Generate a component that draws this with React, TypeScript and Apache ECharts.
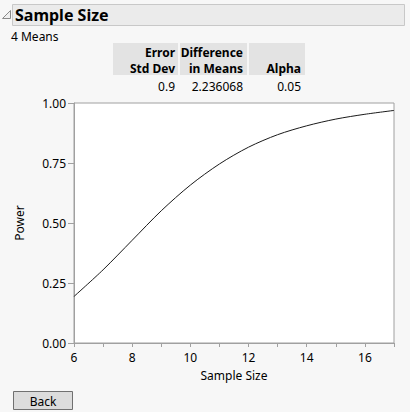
import React, { useEffect, useRef } from "react";
import * as echarts from "echarts";

const sampleSizes = [6, 7, 8, 9, 10, 11, 12, 13, 14, 15, 16, 17];
const powerValues = [0.194, 0.305, 0.428, 0.551, 0.658, 0.746, 0.816, 0.868, 0.905, 0.933, 0.953, 0.969];
const tableHeaders = [["Error", "Std Dev"], ["Difference", "in Means"], ["", "Alpha"]];
const tableValues = ["0.9", "2.236068", "0.05"];

const FONT = "'Noto Sans', 'Open Sans', sans-serif";

export default function App() {
  const ref = useRef<HTMLDivElement>(null);
  useEffect(() => {
    if (!ref.current) return;
    const chart = echarts.init(ref.current, null, { renderer: "svg" });
    const cells = [
      { x: 113, w: 65, right: 175 },
      { x: 180, w: 67, right: 243 },
      { x: 249, w: 56, right: 301 },
    ];
    const graphics: any[] = [
      { type: "rect", shape: { x: 12.5, y: 4.5, width: 392, height: 21 }, style: { fill: "#ebebeb", stroke: "#c8c8c8", lineWidth: 1 }, silent: true },
      { type: "polygon", shape: { points: [[10.5, 10.5], [10.5, 18.5], [2.5, 18.5]] }, style: { fill: "#f0f0f0", stroke: "#8a8a8a", lineWidth: 1 } },
      { type: "text", x: 15, y: 15, style: { text: "Sample Size", font: `bold 16px ${FONT}`, fill: "#000", textVerticalAlign: "middle" } },
      { type: "text", x: 11, y: 36, style: { text: "4 Means", font: `12px ${FONT}`, fill: "#000", textVerticalAlign: "middle" } },
      { type: "rect", shape: { x: 13.5, y: 391.5, width: 59, height: 18 }, style: { fill: "#dcdcdc", stroke: "#707070", lineWidth: 1 } },
      { type: "text", x: 43, y: 401, style: { text: "Back", font: `12px ${FONT}`, fill: "#000", textAlign: "center", textVerticalAlign: "middle" } },
    ];
    cells.forEach((c, i) => {
      graphics.push({ type: "rect", shape: { x: c.x, y: 43, width: c.w, height: 32 }, style: { fill: "#e3e3e3" } });
      tableHeaders[i].forEach((t, j) => {
        if (!t) return;
        graphics.push({ type: "text", x: c.right, y: j === 0 ? 52 : 68, style: { text: t, font: `bold 12px ${FONT}`, fill: "#000", textAlign: "right", textVerticalAlign: "middle" } });
      });
      graphics.push({ type: "text", x: c.right, y: 86, style: { text: tableValues[i], font: `12px ${FONT}`, fill: "#000", textAlign: "right", textVerticalAlign: "middle" } });
    });

    chart.setOption({
      animation: false,
      backgroundColor: "#f7f7f7",
      textStyle: { fontFamily: FONT },
      grid: { left: 74, top: 103, width: 320, height: 240, show: true, backgroundColor: "#ffffff", borderColor: "#a0a0a0", borderWidth: 1 },
      xAxis: {
        type: "value",
        min: 6,
        max: 17,
        interval: 1,
        name: "Sample Size",
        nameLocation: "middle",
        nameGap: 26,
        nameTextStyle: { fontSize: 12, color: "#000", fontFamily: FONT },
        axisLine: { show: true, lineStyle: { color: "#a0a0a0" } },
        axisTick: { show: true, length: 4, inside: false, lineStyle: { color: "#a0a0a0" } },
        axisLabel: { fontSize: 12, color: "#000", margin: 8, fontFamily: FONT, formatter: (v: number) => (v % 2 === 0 ? String(v) : "") },
        splitLine: { show: false },
      },
      yAxis: {
        type: "value",
        min: 0,
        max: 1,
        interval: 0.25,
        name: "Power",
        nameLocation: "middle",
        nameGap: 49,
        nameTextStyle: { fontSize: 12, color: "#000", fontFamily: FONT },
        axisLine: { show: true, lineStyle: { color: "#a0a0a0" } },
        axisTick: { show: true, length: 6, lineStyle: { color: "#a0a0a0" } },
        axisLabel: { fontSize: 12, color: "#000", margin: 8, fontFamily: FONT, formatter: (v: number) => v.toFixed(2) },
        splitLine: { show: false },
      },
      series: [
        {
          type: "line",
          data: sampleSizes.map((x, i) => [x, powerValues[i]]),
          smooth: 0.3,
          showSymbol: false,
          lineStyle: { color: "#1a1a1a", width: 1 },
        },
      ],
      graphic: graphics,
    });
    return () => chart.dispose();
  }, []);
  return <div ref={ref} style={{ width: 410, height: 412, position: "absolute", left: 0, top: 0 }} />;
}
